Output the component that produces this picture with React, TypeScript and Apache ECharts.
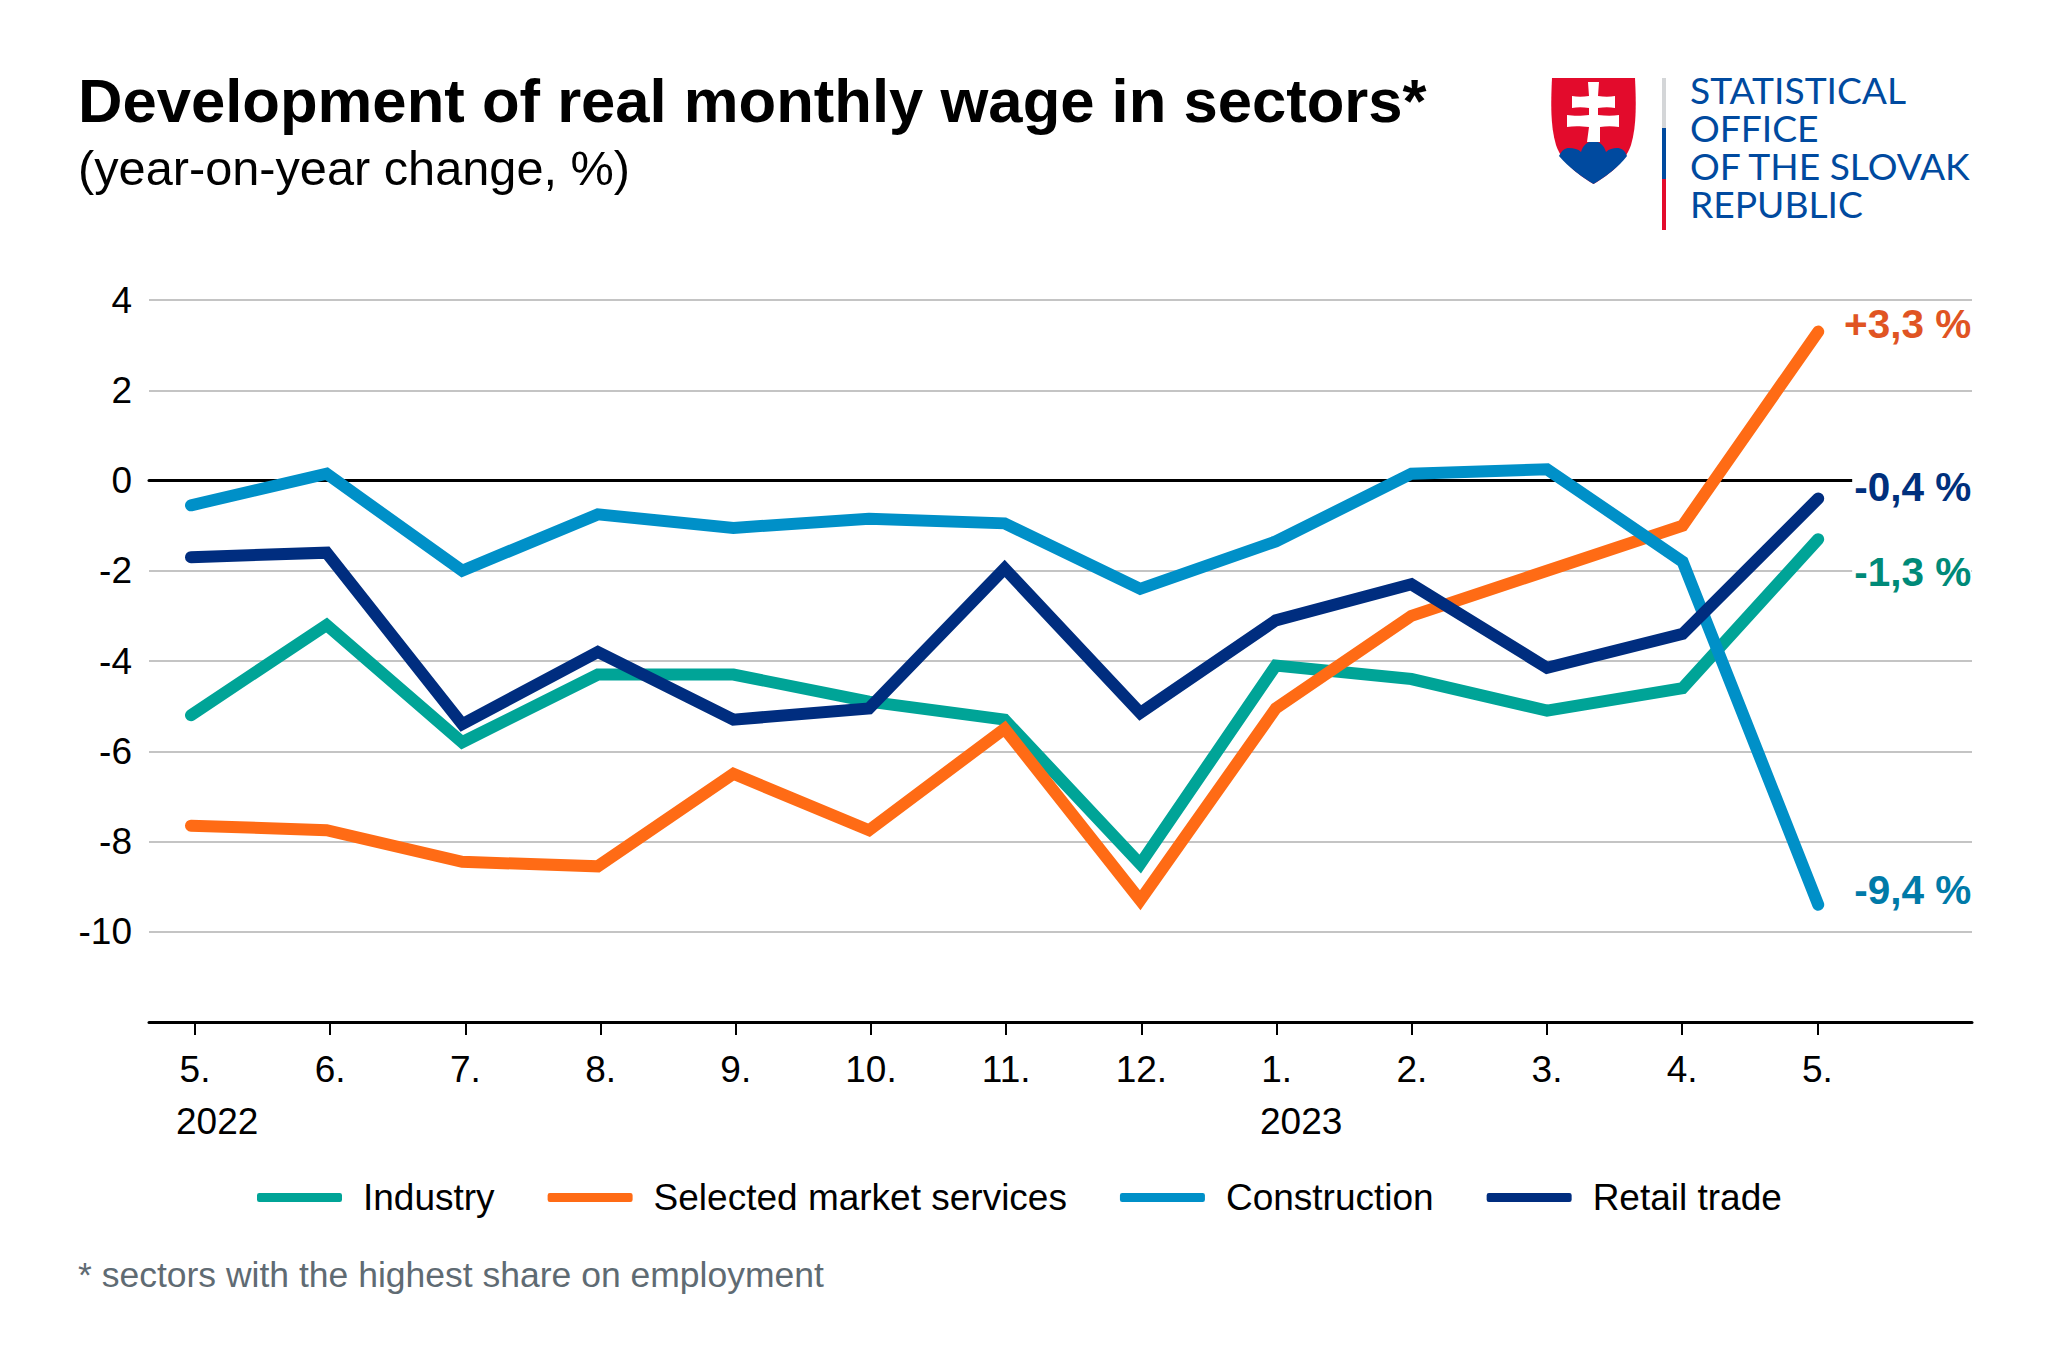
import React, { useEffect, useRef } from "react";
import * as echarts from "echarts";

const months = ["5.", "6.", "7.", "8.", "9.", "10.", "11.", "12.", "1.", "2.", "3.", "4.", "5."];
const industry = [-5.2, -3.2, -5.8, -4.3, -4.3, -4.9, -5.3, -8.5, -4.1, -4.4, -5.1, -4.6, -1.3];
const services = [-7.65, -7.75, -8.45, -8.55, -6.5, -7.75, -5.5, -9.3, -5.05, -3.0, -2.0, -1.0, 3.3];
const construction = [-0.55, 0.15, -2.0, -0.75, -1.05, -0.85, -0.95, -2.4, -1.35, 0.15, 0.25, -1.8, -9.4];
const retail = [-1.7, -1.6, -5.4, -3.8, -5.3, -5.05, -1.95, -5.15, -3.1, -2.3, -4.15, -3.4, -0.4];

const SANS = '"Liberation Sans", Arial, sans-serif';

const shield = "M1552 78 L1635 78 C1636 100 1637 125 1631 145 C1624 165 1605 177 1593.5 184 C1582 177 1563 165 1556 145 C1550 125 1551 100 1552 78 Z";
const hills = "M1559 156 C1562 150 1565 148 1569 148 C1574 148 1578 149 1581 152 C1583 145 1588 141 1593.5 141 C1599 141 1604 145 1606 152 C1609 149 1613 148 1617 148 C1621 148 1625 150 1627 156 C1619 167 1605 177 1593.5 184 C1582 177 1568 167 1559 156 Z";
const cross = "M1588 82 L1599 82 L1598 96 C1604 97 1610 97 1615 96 L1615 108 C1610 107 1604 107 1598 108 L1598 115 C1606 116 1613 116 1619 115 L1619 127 C1613 126 1606 126 1600 127 L1600 142 L1587 142 L1589 127 C1580 126 1573 126 1567 127 L1567 115 C1573 116 1582 116 1589 115 L1589 108 C1583 107 1577 107 1572 108 L1572 96 C1577 97 1583 97 1589 96 Z";
echarts.graphic.registerShape("soShield", echarts.graphic.extendPath(shield, {}));
echarts.graphic.registerShape("soHills", echarts.graphic.extendPath(hills, {}));
echarts.graphic.registerShape("soCross", echarts.graphic.extendPath(cross, {}));

const pts = (a: number[]) => a.map((v, i) => [i, v]);
const fmt = (p: any) => {
  const v = p.value[1];
  return (v > 0 ? "+" : "") + v.toFixed(1).replace(".", ",") + " %";
};

function line(name: string, data: number[], color: string, labelColor: string, dy: number, padLeft: number, padRight = 0) {
  return {
    name,
    type: "line",
    xAxisIndex: 1,
    data: pts(data),
    symbol: "none",
    lineStyle: { color, width: 12, cap: "round", join: "miter" },
    itemStyle: { color },
    endLabel: {
      show: true,
      formatter: fmt,
      align: "right",
      verticalAlign: "middle",
      offset: [145 + padRight, dy],
      color: labelColor,
      fontFamily: SANS,
      fontWeight: "bold",
      fontSize: 40.5,
      backgroundColor: "#fff",
      padding: [0, padRight, 0, padLeft],
    },
  };
}

// y is the text baseline
function text(str: string, x: number, y: number, size: number, color: string, weight = "normal", family = SANS) {
  return {
    type: "text",
    x,
    y: y - 0.89 * size,
    style: { text: str, fontSize: size, fontFamily: family, fontWeight: weight, fill: color },
  };
}

export default function App() {
  const ref = useRef<HTMLDivElement>(null);
  useEffect(() => {
    const chart = echarts.init(ref.current!, undefined, { renderer: "svg" });
    chart.setOption({
      animation: false,
      backgroundColor: "#fff",
      grid: { left: 149, right: 76, top: 300, height: 722, containLabel: false },
      xAxis: [
        {
          type: "value",
          position: "bottom",
          min: -0.3402,
          max: 13.1435,
          axisLine: { show: true, onZero: false, lineStyle: { color: "#000", width: 3 } },
          axisTick: { show: true, length: 13, customValues: months.map((_, i) => i), lineStyle: { color: "#000", width: 2 } },
          axisLabel: {
            customValues: months.map((_, i) => i),
            formatter: (v: number) => months[Math.round(v)],
            color: "#000",
            fontSize: 37,
            fontFamily: SANS,
            margin: 29,
          },
          splitLine: { show: false },
        },
        {
          type: "value",
          min: -0.3097,
          max: 13.134,
          axisLine: { show: true, onZero: true, lineStyle: { color: "#000", width: 3 } },
          axisTick: { show: false },
          axisLabel: { show: false },
          splitLine: { show: false },
        },
      ],
      yAxis: {
        type: "value",
        min: -12,
        max: 4,
        interval: 2,
        axisLine: { show: false },
        axisTick: { show: false },
        axisLabel: {
          color: "#000",
          fontSize: 37,
          fontFamily: SANS,
          margin: 17,
          padding: [0, 0, 8, 0],
          formatter: (v: number) => (v === -12 ? "" : String(v)),
        },
        splitLine: { show: true, lineStyle: { color: "#c4c4c4", width: 2 } },
      },
      legend: {
        left: 252,
        top: 1174,
        itemWidth: 85,
        itemHeight: 9,
        itemGap: 53,
        icon: "roundRect",
        textStyle: { color: "#000", fontSize: 37, fontFamily: SANS, padding: [0, 0, 0, 16] },
        data: ["Industry", "Selected market services", "Construction", "Retail trade"],
      },
      series: [
        line("Industry", industry, "#00a497", "#008a78", 33, 2),
        line("Selected market services", services, "#ff6b15", "#e05423", -8, 0),
        line("Construction", construction, "#0090c8", "#007aa8", -15, 0),
        line("Retail trade", retail, "#002d7f", "#00307d", -12, 2, 6),
      ],
      graphic: [
        text("Development of real monthly wage in sectors*", 78, 124.5, 61.6, "#000", "bold"),
        text("(year-on-year change, %)", 78, 187, 48.7, "#000"),
        text("2022", 176, 1136, 37, "#000"),
        text("2023", 1260, 1136, 37, "#000"),
        text("* sectors with the highest share on employment", 78, 1289, 35.5, "#5f6b73"),
        { type: "soShield", x: 0, y: 0, style: { fill: "#e30b2c" } },
        { type: "soHills", x: 0, y: 0, style: { fill: "#004a9f" } },
        { type: "soCross", x: 0, y: 0, style: { fill: "#fff" } },
        { type: "rect", shape: { x: 1662, y: 78, width: 4, height: 50 }, style: { fill: "#d4d6d8" } },
        { type: "rect", shape: { x: 1662, y: 128, width: 4, height: 51 }, style: { fill: "#004a9f" } },
        { type: "rect", shape: { x: 1662, y: 179, width: 4, height: 51 }, style: { fill: "#e30b2c" } },
        text("STATISTICAL", 1690, 104, 37.2, "#004a9f", "normal", "Lato"),
        text("OFFICE", 1690, 142, 37.2, "#004a9f", "normal", "Lato"),
        text("OF THE SLOVAK", 1690, 180, 37.2, "#004a9f", "normal", "Lato"),
        text("REPUBLIC", 1690, 218, 37.2, "#004a9f", "normal", "Lato"),
      ],
    });
    return () => chart.dispose();
  }, []);
  return <div ref={ref} style={{ position: "fixed", left: 0, top: 0, width: 2048, height: 1365 }} />;
}
